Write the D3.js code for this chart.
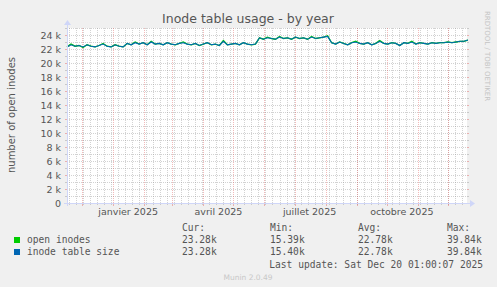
<!DOCTYPE html>
<html>
<head>
<meta charset="utf-8">
<script src="https://cdn.jsdelivr.net/npm/d3@7"></script>
<style>
  body { margin: 0; background: #F0F0F0; }
  svg text { font-family: "DejaVu Sans", sans-serif; fill: #555; }
  .mono { font-family: "DejaVu Sans Mono", monospace; }
</style>
</head>
<body>
<div class="content"></div>
<script>
// samples every 4 days from 2024-11-16, values in thousands
const startDay = '2024-11-16';
const stepDays = 4;
const openInodes = [
  22.3, 22.7, 22.4, 22.5, 22.2, 22.6, 22.4, 22.3, 22.5, 22.8, 22.4, 22.3, 22.6, 22.4, 22.3,
  22.8, 22.6, 23.0, 22.7, 22.9, 22.6, 23.1, 22.7, 22.8, 22.6, 22.9, 22.7, 22.6, 22.8, 23.0,
  22.7, 22.6, 22.8, 22.5, 22.7, 22.9, 22.6, 22.7, 22.5, 23.2, 22.6, 22.7, 22.8, 22.6, 22.9,
  22.7, 22.6, 22.7,
  23.6, 23.4, 23.7, 23.5, 23.4, 23.8, 23.5, 23.6, 23.4, 23.7, 23.5, 23.6, 23.4, 23.8, 23.5,
  23.6, 23.7, 23.9,
  22.9, 22.7, 23.0, 22.8, 22.6, 22.9, 23.1, 22.8, 22.7, 22.9, 22.6, 22.8, 23.2, 22.8, 22.7,
  22.9, 22.8, 22.5, 22.9, 22.8, 23.1, 22.7, 22.9, 22.8, 22.7, 22.9, 22.8, 22.9,
  22.9, 23.0, 22.9, 23.0, 23.1, 23.1, 23.28
];
const tableSize = [
  22.3, 22.6, 22.4, 22.5, 22.3, 22.6, 22.4, 22.3, 22.5, 22.7, 22.4, 22.3, 22.6, 22.4, 22.3,
  22.8, 22.6, 22.9, 22.7, 22.9, 22.6, 23.0, 22.7, 22.8, 22.6, 22.9, 22.7, 22.6, 22.8, 22.9,
  22.7, 22.6, 22.8, 22.5, 22.7, 22.9, 22.6, 22.7, 22.5, 23.1, 22.6, 22.7, 22.8, 22.6, 22.9,
  22.7, 22.6, 22.7,
  23.6, 23.4, 23.6, 23.5, 23.4, 23.7, 23.5, 23.6, 23.4, 23.7, 23.5, 23.6, 23.4, 23.7, 23.5,
  23.6, 23.7, 23.8,
  22.9, 22.7, 23.0, 22.8, 22.6, 22.9, 23.0, 22.8, 22.7, 22.9, 22.6, 22.8, 23.1, 22.8, 22.7,
  22.9, 22.8, 22.5, 22.9, 22.8, 23.0, 22.7, 22.9, 22.8, 22.7, 22.9, 22.8, 22.9,
  22.9, 23.0, 22.9, 23.0, 23.1, 23.1, 23.28
];
const xTickMonths = ['2025-01-01', '2025-04-01', '2025-07-01', '2025-10-01'];
const xTickLabels = ['janvier 2025', 'avril 2025', 'juillet 2025', 'octobre 2025'];
const yTicks = [0, 2000, 4000, 6000, 8000, 10000, 12000, 14000, 16000, 18000, 20000, 22000, 24000];
const seriesNames = ['open inodes', 'inode table size'];
const seriesColors = ['#00CC00', '#0066B3'];
const legendCur = ['23.28k', '23.28k'];
const legendMin = ['15.39k', '15.40k'];
const legendAvg = ['22.78k', '22.78k'];
const legendMax = ['39.84k', '39.84k'];

const W = 497, H = 287;
const plotL = 67, plotR = 467, plotT = 28, plotB = 203;

const svg = d3.select('div.content').append('svg')
  .attr('width', W).attr('height', H);

svg.append('rect').attr('width', W).attr('height', H).attr('fill', '#F0F0F0');
svg.append('rect').attr('x', plotL).attr('y', plotT)
  .attr('width', plotR - plotL).attr('height', plotB - plotT).attr('fill', '#fff');

const t0 = d3.utcParse('%Y-%m-%d')(startDay);
const tEnd = new Date(Date.UTC(2025, 11, 20, 1, 0, 7));
const x = d3.scaleUtc().domain([t0, tEnd]).range([plotL, plotR]);
const y = d3.scaleLinear().domain([0, 25000]).range([plotB, plotT]);

const gridMinor = 'rgba(143,143,143,0.4)';
const gridMajor = 'rgba(222,79,79,0.4)';

// horizontal grid
const g = svg.append('g');
d3.range(1000, 25001, 1000).forEach((v) => {
  const yy = Math.round(y(v)) + 0.5;
  const major = v % 2000 === 0;
  g.append('line').attr('x1', plotL).attr('x2', plotR).attr('y1', yy).attr('y2', yy)
    .attr('stroke', gridMinor).attr('stroke-dasharray', '1,1');
  [[plotL - 2, plotL], [plotR, plotR + 2]].forEach(([a, b]) => {
    g.append('line').attr('x1', a).attr('x2', b).attr('y1', yy).attr('y2', yy)
      .attr('stroke', major ? gridMajor : gridMinor);
  });
});

// vertical grid: weeks and months
d3.utcMonday.range(t0, tEnd).forEach((d) => {
  const xx = Math.round(x(d)) + 0.5;
  g.append('line').attr('x1', xx).attr('x2', xx).attr('y1', plotT).attr('y2', plotB + 2)
    .attr('stroke', gridMinor).attr('stroke-dasharray', '1,1');
});
d3.utcMonth.range(t0, tEnd).forEach((d) => {
  const xx = Math.round(x(d)) + 0.5;
  g.append('line').attr('x1', xx).attr('x2', xx).attr('y1', plotT).attr('y2', plotB)
    .attr('stroke', gridMajor).attr('stroke-dasharray', '1,1');
  g.append('line').attr('x1', xx).attr('x2', xx).attr('y1', plotB).attr('y2', plotB + 3)
    .attr('stroke', gridMajor);
});

// y labels
svg.append('g').selectAll('text').data(yTicks).enter().append('text')
  .attr('x', plotL - 6).attr('y', (d) => y(d) + 3.5)
  .attr('text-anchor', 'end').attr('font-size', 9.5)
  .text((d) => d === 0 ? '0' : (d / 1000) + ' k');

// x labels, centred half a month after the month start
svg.append('g').selectAll('text').data(xTickMonths).enter().append('text')
  .attr('x', (d) => x(d3.utcDay.offset(d3.utcParse('%Y-%m-%d')(d), 15)))
  .attr('y', 215).attr('text-anchor', 'middle').attr('font-size', 9.5)
  .text((d, i) => xTickLabels[i]);

// lines
const dates = openInodes.map((v, i) => d3.utcDay.offset(t0, i * stepDays));
const line = d3.line().x((d, i) => x(dates[i])).y((d) => y(d * 1000));
svg.append('path').datum(openInodes).attr('d', line)
  .attr('fill', 'none').attr('stroke', seriesColors[0]).attr('stroke-width', 1.3);
svg.append('path').datum(tableSize).attr('d', line)
  .attr('fill', 'none').attr('stroke', seriesColors[1]).attr('stroke-width', 1.1);

// axes and arrows
const axisColor = '#CFD6F8';
svg.append('line').attr('x1', plotL - 3).attr('x2', plotR + 3).attr('y1', plotB + 0.5).attr('y2', plotB + 0.5)
  .attr('stroke', axisColor);
svg.append('line').attr('x1', plotL + 0.5).attr('x2', plotL + 0.5).attr('y1', plotB + 3).attr('y2', plotT - 4)
  .attr('stroke', axisColor);
svg.append('path').attr('d', `M${plotR + 3},${plotB - 3}L${plotR + 8},${plotB + 0.5}L${plotR + 3},${plotB + 4}Z`)
  .attr('fill', axisColor);
svg.append('path').attr('d', `M${plotL - 3},${plotT - 3}L${plotL + 0.5},${plotT - 8}L${plotL + 4},${plotT - 3}Z`)
  .attr('fill', axisColor);

// titles
svg.append('text').attr('x', 248).attr('y', 23).attr('text-anchor', 'middle')
  .attr('font-size', 12.5).text('Inode table usage - by year');
svg.append('text').attr('transform', 'translate(15,115) rotate(-90)')
  .attr('text-anchor', 'middle').attr('font-size', 10).text('number of open inodes');
svg.append('text').attr('transform', 'translate(485,56) rotate(90)')
  .attr('text-anchor', 'middle').attr('font-size', 7).style('fill', '#c4c4c4')
  .text('RRDTOOL / TOBI OETIKER');

// legend
const leg = svg.append('g').attr('font-size', 9.6);
const cols = [182, 270, 358, 447];
['Cur:', 'Min:', 'Avg:', 'Max:'].forEach((h, i) => {
  leg.append('text').attr('class', 'mono').attr('x', cols[i]).attr('y', 231).text(h);
});
seriesNames.forEach((name, i) => {
  const yy = 243 + i * 12;
  leg.append('rect').attr('x', 14).attr('y', yy - 6).attr('width', 6).attr('height', 6)
    .attr('fill', seriesColors[i]);
  leg.append('text').attr('class', 'mono').attr('x', 27).attr('y', yy).text(name);
  [legendCur, legendMin, legendAvg, legendMax].forEach((arr, j) => {
    leg.append('text').attr('class', 'mono').attr('x', cols[j]).attr('y', yy).text(arr[i]);
  });
});
leg.append('text').attr('class', 'mono').attr('x', 483).attr('y', 268).attr('text-anchor', 'end')
  .text('Last update: Sat Dec 20 01:00:07 2025');
svg.append('text').attr('x', 248).attr('y', 280).attr('text-anchor', 'middle')
  .attr('font-size', 7.5).style('fill', '#c8c8c8').text('Munin 2.0.49');
</script>
</body>
</html>
